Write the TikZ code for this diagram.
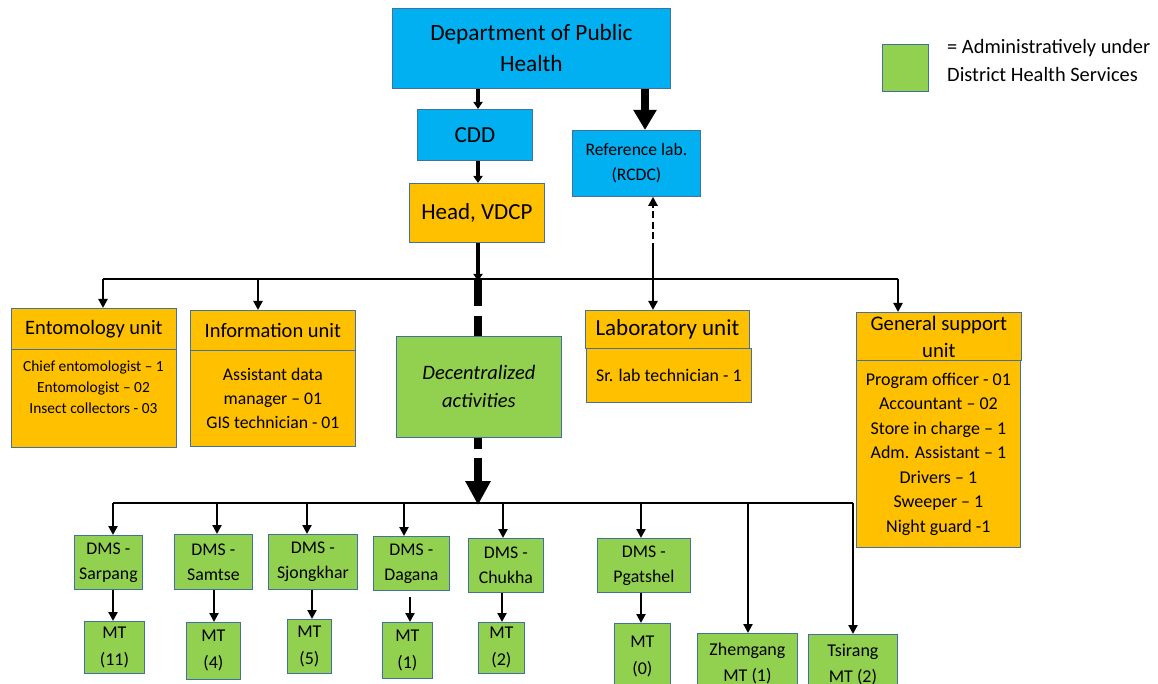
\documentclass[tikz,border=0pt]{standalone}
\usepackage{fontspec}
\setmainfont{Carlito}
\usetikzlibrary{arrows.meta}
\definecolor{cyanbox}{HTML}{00B0F0}
\definecolor{orangebox}{HTML}{FFC000}
\definecolor{greenbox}{HTML}{92D050}
\definecolor{edgeblue}{HTML}{41719C}
\tikzset{
  box/.style={draw=edgeblue, line width=0.8pt, inner sep=0pt, align=center, anchor=north west},
  cyanb/.style={box, fill=cyanbox},
  orangeb/.style={box, fill=orangebox},
  greenb/.style={box, fill=greenbox},
  link/.style={line width=2.2pt, draw=black},
  arr/.style={link, -{Triangle[length=9pt,width=9pt]}},
  fnt/.style 2 args={font=\fontsize{#1}{#2}\selectfont},
}
\begin{document}
\begin{tikzpicture}[x=1pt,y=-1pt]
\useasboundingbox (0,0) rectangle (1158,684);
\clip (0,0) rectangle (1158,684);
% top
\node[cyanb, minimum width=278pt, minimum height=80pt, fnt={23.3}{31}] (dph) at (392,8) {Department of Public\\Health};
\node[cyanb, minimum width=115pt, minimum height=51pt, fnt={23}{26}] (cdd) at (417,109) {CDD};
\node[orangeb, minimum width=135pt, minimum height=59pt, fnt={23}{26}] (vdcp) at (409,183) {Head, VDCP};
\node[cyanb, minimum width=128pt, minimum height=66pt, fnt={17.6}{25}] (ref) at (572,130) {Reference lab.\\(RCDC)};
% units
\node[orangeb, minimum width=165pt, minimum height=41pt, fnt={20.5}{24}] (enth) at (11,308) {Entomology unit};
\node[orangeb, minimum width=165pt, minimum height=98pt] (entb) at (11,349) {};
\node[anchor=north, align=center, inner sep=0pt, fnt={15.4}{21}] (entt) at (93.5,361) {Chief entomologist -- 1\\Entomologist -- 02\\Insect collectors - 03};
\node[orangeb, minimum width=165pt, minimum height=40pt, fnt={20.5}{24}] (infh) at (190,310) {Information unit};
\node[orangeb, minimum width=165pt, minimum height=96pt, fnt={17.7}{24}] (infb) at (190,350) {Assistant data\\manager -- 01\\GIS technician - 01};
\node[greenb, minimum width=165pt, minimum height=101pt, fnt={20.5}{28}] (dec) at (396,336) {\itshape Decentralized\\\itshape activities};
\node[orangeb, minimum width=164pt, minimum height=38pt, fnt={23}{26}] (labh) at (585,310) {Laboratory unit};
\node[orangeb, minimum width=165pt, minimum height=54pt, fnt={17.8}{24}] (labb) at (586,348) {Sr. lab technician - 1};
\node[orangeb, minimum width=165pt, minimum height=48pt, fnt={20.7}{27}] (genh) at (856,312) {General support\\unit};
\node[orangeb, minimum width=164pt, minimum height=187pt, fnt={18}{24.5}] (genb) at (856,360) {Program officer - 01\\Accountant -- 02\\Store in charge -- 1\\Adm. Assistant -- 1\\Drivers -- 1\\Sweeper -- 1\\Night guard -1};
% legend
\node[greenb, minimum width=46pt, minimum height=47pt] (leg) at (882,44) {};
\node[anchor=north west, align=left, inner sep=0pt, fnt={20.4}{28}] (legt) at (947,39) {= Administratively under\\District Health Services};
% districts
\node[greenb, minimum width=68pt, minimum height=54pt, fnt={17.8}{25}] (d1) at (74,535) {DMS -\\Sarpang};
\node[greenb, minimum width=78pt, minimum height=55pt, fnt={17.8}{25}] (d2) at (174,534) {DMS -\\Samtse};
\node[greenb, minimum width=89pt, minimum height=55pt, fnt={17.8}{25}] (d3) at (268,534) {DMS -\\Sjongkhar};
\node[greenb, minimum width=76pt, minimum height=54pt, fnt={17.8}{25}] (d4) at (373,536) {DMS -\\Dagana};
\node[greenb, minimum width=75pt, minimum height=54pt, fnt={17.8}{25}] (d5) at (468,538) {DMS -\\Chukha};
\node[greenb, minimum width=93pt, minimum height=54pt, fnt={17.8}{25}] (d6) at (597,538) {DMS -\\Pgatshel};
\node[greenb, minimum width=60pt, minimum height=52pt, fnt={18}{27}] (m1) at (84,621) {MT\\(11)};
\node[greenb, minimum width=54pt, minimum height=57pt, fnt={18}{27}] (m2) at (186,622) {MT\\(4)};
\node[greenb, minimum width=44pt, minimum height=54pt, fnt={18}{27}] (m3) at (287,619) {MT\\(5)};
\node[greenb, minimum width=50pt, minimum height=56pt, fnt={18}{27}] (m4) at (382,622) {MT\\(1)};
\node[greenb, minimum width=46pt, minimum height=51pt, fnt={18}{27}] (m5) at (478,622) {MT\\(2)};
\node[greenb, minimum width=56pt, minimum height=66pt, fnt={18}{27}] (m6) at (614,623) {MT\\(0)};
\node[greenb, minimum width=100pt, minimum height=60pt, fnt={18}{26}] (m7) at (697,633) {Zhemgang\\MT (1)\vphantom{g}};
\node[greenb, minimum width=89pt, minimum height=60pt, fnt={18}{26}] (m8) at (808,634) {Tsirang\\MT (2)\vphantom{g}};
% connectors top
\draw[line width=3.5pt, -{Triangle[length=7pt,width=9pt]}] (dph.south -| 478,0) -- (478,0 |- cdd.north);
\draw[line width=3.5pt, -{Triangle[length=7pt,width=9pt]}] (cdd.south -| 478,0) -- (478,0 |- vdcp.north);
\draw[line width=8pt, -{Triangle[length=20pt,width=22pt]}] (dph.south -| 645,0) -- (645,0 |- ref.north);
% upper bus
\coordinate (bus) at (478,279);
\coordinate (b1) at (103,279);
\coordinate (b2) at (258,279);
\coordinate (b4) at (898,279);
\draw[line width=3.5pt, -{Triangle[length=7pt,width=9pt]}] (vdcp.south -| bus) -- ([yshift=-2pt]bus);
\draw[link] (b1) -- (b4);
\draw[arr] (b1) -- (b1 |- enth.north);
\draw[arr] (b2) -- (b2 |- infh.north);
\draw[arr] (b4) -- (b4 |- genh.north);
\draw[line width=8pt, dash pattern=on 27pt off 10pt on 60pt] (bus) -- (bus |- dec.north);
% ref lab <-> lab unit
\coordinate (rl) at (653,250);
\draw[link, dash pattern=on 7pt off 3.5pt, -{Triangle[length=9pt,width=9pt]}] (rl) -- (rl |- ref.south);
\draw[arr] (rl) -- (rl |- labh.north);
% lower bus
\coordinate (lb) at (478,503);
\coordinate (c1) at (113,503);
\coordinate (c2) at (217,503);
\coordinate (c3) at (307,503);
\coordinate (c4) at (404,503);
\coordinate (c5) at (503,503);
\coordinate (c6) at (641,503);
\coordinate (c7) at (748,503);
\coordinate (c8) at (853,503);
\draw[line width=8pt, dash pattern=on 11pt off 9pt on 100pt, -{Triangle[length=24pt,width=24pt]}] (dec.south -| lb) -- ([yshift=-2pt]lb);
\draw[link] (c1) -- (c8);
\foreach \c/\d in {c1/d1,c2/d2,c3/d3,c4/d4,c5/d5,c6/d6,c7/m7,c8/m8}
  \draw[arr] (\c) -- (\c |- \d.north);
\draw[arr] (d1.south -| 113,0) -- (113,0 |- m1.north);
\draw[arr] (d2.south -| 214,0) -- (214,0 |- m2.north);
\draw[arr] (d3.south -| 312,0) -- (312,0 |- m3.north);
\draw[arr] ([yshift=-6pt]d4.south -| 410,0) -- (410,0 |- m4.north);
\draw[arr] (d5.south -| 502,0) -- (502,0 |- m5.north);
\draw[arr] (d6.south -| 641,0) -- (641,0 |- m6.north);
\end{tikzpicture}
\end{document}
